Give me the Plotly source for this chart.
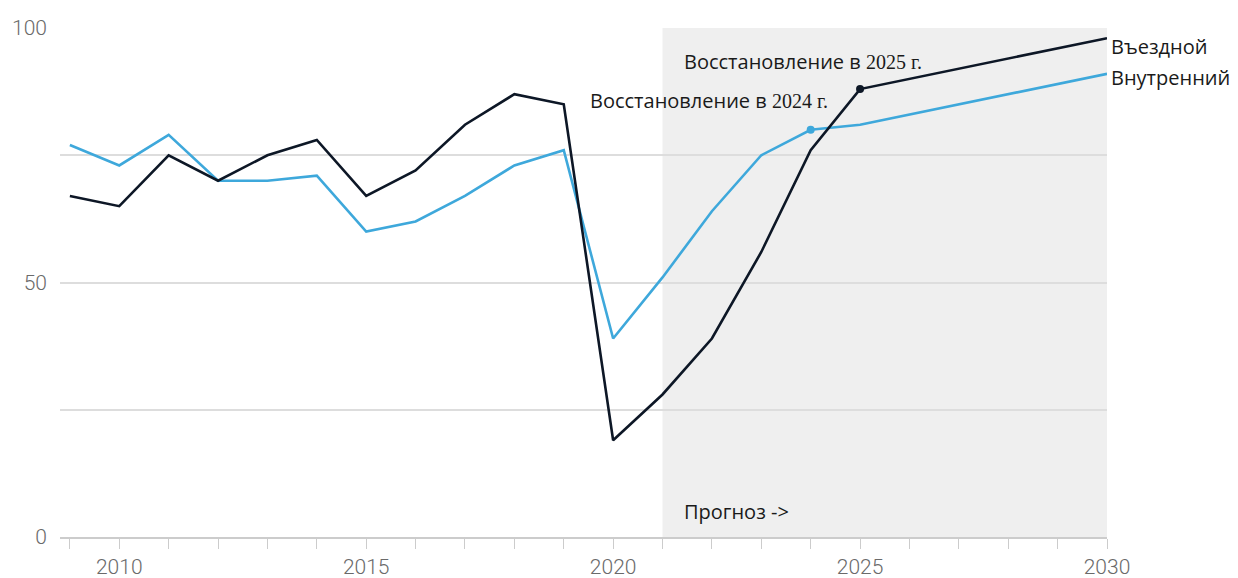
import plotly.graph_objects as go

years = list(range(2009, 2026)) + [2030]
inbound = [67, 65, 75, 70, 75, 78, 67, 72, 81, 87, 85, 19, 28, 39, 56, 76, 88, 98]
domestic = [77, 73, 79, 70, 70, 71, 60, 62, 67, 73, 76, 39, 51, 64, 75, 80, 81, 91]

series_names = ["Въездной", "Внутренний"]
recovery_prefix = "Восстановление в "
recovery_suffix = ["2025 г.", "2024 г."]
recovery_years = [2025, 2024]
forecast_start, forecast_end = 2021, 2030
forecast_label = "Прогноз ->"

dark = "#0d1726"
blue = "#3ea8db"

fig = go.Figure()
fig.add_trace(go.Scatter(x=years, y=domestic, mode="lines", line=dict(color=blue, width=2.6),
                         name=series_names[1], showlegend=False, hoverinfo="skip"))
fig.add_trace(go.Scatter(x=years, y=inbound, mode="lines", line=dict(color=dark, width=2.6),
                         name=series_names[0], showlegend=False, hoverinfo="skip"))

fig.add_trace(go.Scatter(x=[recovery_years[1]], y=[domestic[years.index(recovery_years[1])]],
                         mode="markers", marker=dict(color=blue, size=8), showlegend=False))
fig.add_trace(go.Scatter(x=[recovery_years[0]], y=[inbound[years.index(recovery_years[0])]],
                         mode="markers", marker=dict(color=dark, size=8), showlegend=False))

fig.add_shape(type="rect", xref="x", yref="y", x0=forecast_start, x1=forecast_end, y0=0, y1=100,
              fillcolor="#efefef", line=dict(width=0), layer="below")

txt_font = dict(family="Open Sans, Noto Sans, sans-serif", size=20, color="#1a1a1a")
serif = "<span style='font-family:Liberation Serif, serif'>{}</span>"
fig.add_annotation(x=2021.4, y=93.5, xref="x", yref="y",
                   text=recovery_prefix + serif.format(recovery_suffix[0]), showarrow=False,
                   xanchor="left", yanchor="middle", font=txt_font)
fig.add_annotation(x=2019.5, y=85.8, xref="x", yref="y",
                   text=recovery_prefix + serif.format(recovery_suffix[1]), showarrow=False,
                   xanchor="left", yanchor="middle", font=txt_font)
fig.add_annotation(x=2021.4, y=5, xref="x", yref="y", text=forecast_label, showarrow=False,
                   xanchor="left", yanchor="middle", font=txt_font)
fig.add_annotation(x=2030, y=inbound[-1], xref="x", yref="y", text=series_names[0], showarrow=False,
                   xanchor="left", yanchor="middle", xshift=2, yshift=-8, font=txt_font)
fig.add_annotation(x=2030, y=domestic[-1], xref="x", yref="y", text=series_names[1], showarrow=False,
                   xanchor="left", yanchor="middle", xshift=2, yshift=-4, font=txt_font)

tick_font = dict(family="Roboto, Liberation Sans, sans-serif", size=21, color="#6a6a6a", weight=300)
fig.update_xaxes(range=[2008.8, 2030], tickvals=[2010, 2015, 2020, 2025, 2030],
                 ticks="outside", ticklen=10, tickcolor="#cccccc", tickwidth=1,
                 minor=dict(dtick=1, tick0=2009, ticks="outside", ticklen=10, tickcolor="#cccccc", showgrid=False),
                 showgrid=False, showline=True, linecolor="#cccccc", linewidth=2,
                 tickfont=tick_font, ticklabelstandoff=0, zeroline=False, fixedrange=True, automargin=False)
fig.update_yaxes(range=[0, 100], tickvals=[0, 25, 50, 75, 100], ticktext=["0", "", "50", "", "100"],
                 showgrid=True, gridcolor="#dddddd", gridwidth=1.5, zeroline=False, showline=False,
                 ticks="", ticklabelstandoff=12, tickfont=tick_font, fixedrange=True, automargin=False)

fig.update_layout(width=1238, height=578, margin=dict(l=60, r=131, t=28, b=41),
                  plot_bgcolor="white", paper_bgcolor="white", showlegend=False)

fig.write_html("out.html")
